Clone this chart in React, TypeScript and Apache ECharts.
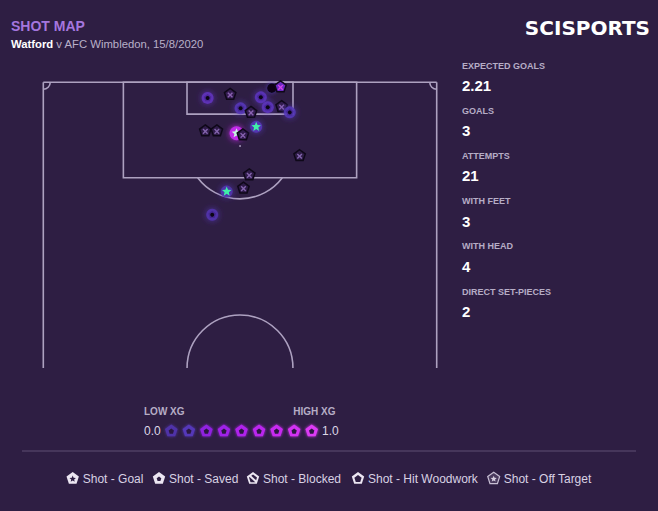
import React, { useEffect, useRef } from "react";
import * as echarts from "echarts";

// ---------- data ----------
const statLabels = ["EXPECTED GOALS", "GOALS", "ATTEMPTS", "WITH FEET", "WITH HEAD", "DIRECT SET-PIECES"];
const statValues = ["2.21", "3", "21", "3", "4", "2"];
const legendNames = ["Shot - Goal", "Shot - Saved", "Shot - Blocked", "Shot - Hit Woodwork", "Shot - Off Target"];
const legendKinds = ["Goal", "Saved", "Blocked", "Woodwork", "Off Target"];
const xgScaleColors = ["#4f33a8", "#5537b8", "#9020e0", "#a020e8", "#b024ec", "#bb28ee", "#c82cf0", "#d232f2", "#dc3af4"];

// pitch coordinates in metres: x across (0-68), y from goal line outward
const shotX = [28.4, 32.3, 37.6, 39.5, 41.0, 34.1, 38.8, 35.9, 41.2, 42.6, 28.0, 30.0, 33.4, 34.5, 36.8, 44.3, 35.6, 34.6, 31.7, 29.2];
const shotY = [2.7, 2.1, 2.6, 1.0, 0.8, 4.5, 4.3, 5.2, 4.2, 5.2, 8.4, 8.4, 8.8, 9.1, 7.7, 12.7, 16.0, 18.3, 18.9, 22.9];
const shotXG = [0.15, 0.06, 0.14, 0.05, 0.45, 0.13, 0.14, 0.06, 0.05, 0.12, 0.03, 0.03, 0.76, 0.05, 0.12, 0.02, 0.03, 0.03, 0.05, 0.06];
const shotOutcome = ["Saved", "Off Target", "Saved", "Blocked", "Off Target", "Saved", "Saved", "Off Target", "Off Target", "Saved", "Off Target", "Off Target", "Goal", "Off Target", "Goal", "Off Target", "Off Target", "Off Target", "Goal", "Saved"];

// ---------- helpers ----------
const BG = "#2e1e43";
const LINE = "#ada1c0";
const FONT = "'Liberation Sans', Arial, sans-serif";

function hexToRgb(h: string) {
  const n = parseInt(h.slice(1), 16);
  return [(n >> 16) & 255, (n >> 8) & 255, n & 255];
}
function mix(a: string, b: string, t: number) {
  const A = hexToRgb(a), B = hexToRgb(b);
  const c = A.map((v, i) => Math.round(v + (B[i] - v) * t));
  return "rgb(" + c.join(",") + ")";
}
function xgColor(xg: number) {
  const p = Math.max(0, Math.min(1, xg)) * (xgScaleColors.length - 1);
  const i = Math.min(Math.floor(p), xgScaleColors.length - 2);
  return mix(xgScaleColors[i], xgScaleColors[i + 1], p - i);
}
function pentagon(cx: number, cy: number, r: number) {
  const pts: number[][] = [];
  for (let k = 0; k < 5; k++) {
    const a = (-90 + 72 * k) * Math.PI / 180;
    pts.push([cx + r * Math.cos(a), cy + r * Math.sin(a)]);
  }
  return pts;
}
function star(cx: number, cy: number, r: number) {
  const pts: number[][] = [];
  for (let k = 0; k < 10; k++) {
    const a = (-90 + 36 * k) * Math.PI / 180;
    const rr = k % 2 === 0 ? r : r * 0.45;
    pts.push([cx + rr * Math.cos(a), cy + rr * Math.sin(a)]);
  }
  return pts;
}

function shotGlyph(cx: number, cy: number, xg: number, kind: string) {
  const col = xgColor(xg);
  const ch: any[] = [];
  if (kind === "Goal") {
    ch.push({ type: "circle", shape: { cx, cy, r: xg > 0.5 ? 7 : 6 }, style: { fill: col, opacity: 0.9, shadowBlur: 6, shadowColor: col } });
    ch.push({ type: "polygon", shape: { points: star(cx, cy, 5) }, style: { fill: xg > 0.5 ? "#c8f5e0" : "#3ff0a8" } });
  } else if (kind === "Saved") {
    ch.push({ type: "circle", shape: { cx, cy, r: 6 }, style: { fill: col, opacity: 0.85, shadowBlur: 6, shadowColor: col } });
    ch.push({ type: "polygon", shape: { points: pentagon(cx, cy, 4) }, style: { fill: mix("#2a1060", "#2a1060", 0), opacity: 0.35 } });
    ch.push({ type: "circle", shape: { cx, cy, r: 2 }, style: { fill: "#0b0614" } });
  } else if (kind === "Blocked") {
    ch.push({ type: "circle", shape: { cx, cy, r: 4.8 }, style: { fill: "#0b0614", shadowBlur: 4, shadowColor: col } });
  } else {
    const fillOp = Math.min(1, xg * 1.8);
    ch.push({ type: "polygon", shape: { points: pentagon(cx, cy, 6) }, style: { fill: mix("#2a1a3e", "#7a2ee0", fillOp), stroke: "#0e0818", lineWidth: 1.5 } });
    const xc = mix("#7e66aa", "#e040f0", Math.min(1, xg * 2));
    const d = 2.3;
    ch.push({ type: "line", shape: { x1: cx - d, y1: cy + 0.5 - d, x2: cx + d, y2: cy + 0.5 + d }, style: { stroke: xc, lineWidth: 1.4 } });
    ch.push({ type: "line", shape: { x1: cx - d, y1: cy + 0.5 + d, x2: cx + d, y2: cy + 0.5 - d }, style: { stroke: xc, lineWidth: 1.4 } });
  }
  return ch;
}

function legendIcon(cx: number, cy: number, kind: string) {
  const W = "#ece6f2", D = BG;
  const ch: any[] = [];
  if (kind === "Goal") {
    ch.push({ type: "polygon", shape: { points: pentagon(cx, cy, 6.5) }, style: { fill: W } });
    ch.push({ type: "polygon", shape: { points: star(cx, cy + 0.5, 3.4) }, style: { fill: D } });
  } else if (kind === "Saved") {
    ch.push({ type: "polygon", shape: { points: pentagon(cx, cy, 6.5) }, style: { fill: W } });
    ch.push({ type: "polygon", shape: { points: pentagon(cx, cy + 0.5, 2.4) }, style: { fill: D } });
  } else if (kind === "Blocked") {
    ch.push({ type: "polygon", shape: { points: pentagon(cx, cy, 6.5) }, style: { fill: W } });
    ch.push({ type: "polygon", shape: { points: pentagon(cx, cy + 0.3, 4.2) }, style: { fill: D } });
    ch.push({ type: "line", shape: { x1: cx - 3.5, y1: cy - 3, x2: cx + 3.5, y2: cy + 3.5 }, style: { stroke: W, lineWidth: 2 } });
  } else if (kind === "Woodwork") {
    ch.push({ type: "polygon", shape: { points: pentagon(cx, cy, 6.5) }, style: { fill: W } });
    ch.push({ type: "polygon", shape: { points: pentagon(cx, cy + 0.4, 3.8) }, style: { fill: D } });
  } else {
    ch.push({ type: "polygon", shape: { points: pentagon(cx, cy, 6.3) }, style: { fill: "#4a3a5e", stroke: "#c8bfd4", lineWidth: 1.2 } });
    ch.push({ type: "polygon", shape: { points: star(cx, cy + 0.5, 3.2) }, style: { fill: "#d8d0e2" } });
  }
  return ch;
}

function txt(x: number, y: number, text: string, size: number, fill: string, weight: string, align: string = "left", family: string = FONT) {
  return {
    type: "text", x, y, silent: true,
    style: { text, fill, fontSize: size, fontWeight: weight, fontFamily: family, align, verticalAlign: "middle", textAlign: align, textVerticalAlign: "middle" },
  };
}

export default function App() {
  const ref = useRef<HTMLDivElement>(null);
  useEffect(() => {
    const chart = echarts.init(ref.current!, null, { renderer: "svg" });

    const graphics: any[] = [];
    graphics.push(txt(11, 25.5, "SHOT MAP", 14, "#a576de", "bold"));
    graphics.push({
      type: "text", x: 11, y: 44, silent: true,
      style: {
        text: "{b|Watford}{n| v AFC Wimbledon, 15/8/2020}", verticalAlign: "middle", textVerticalAlign: "middle",
        rich: {
          b: { fontSize: 11.3, fontWeight: "bold", fill: "#ffffff", fontFamily: FONT },
          n: { fontSize: 11.3, fill: "#b9b0c9", fontFamily: FONT },
        },
      },
    });
    graphics.push(txt(650, 28, "SCISPORTS", 20, "#ffffff", "bold", "right", "'DejaVu Sans', sans-serif"));

    statLabels.forEach((l, i) => {
      graphics.push(txt(462, 66 + 45.1 * i, l, 9, "#b6adc6", "bold"));
      graphics.push(txt(462, 85.7 + 45.1 * i, statValues[i], 15, "#ffffff", "bold"));
    });

    graphics.push(txt(144, 411, "LOW XG", 10, "#b6adc6", "bold"));
    graphics.push(txt(335.5, 411, "HIGH XG", 10, "#b6adc6", "bold", "right"));
    graphics.push(txt(144, 431, "0.0", 12, "#ddd6e6", "normal"));
    graphics.push(txt(322, 431, "1.0", 12, "#ddd6e6", "normal"));
    xgScaleColors.forEach((c, i) => {
      const cx = 171.3 + 17.55 * i, cy = 431;
      graphics.push({ type: "polygon", silent: true, shape: { points: pentagon(cx, cy, 6.6) }, style: { fill: c, shadowBlur: 3, shadowColor: c } });
      graphics.push({ type: "polygon", silent: true, shape: { points: pentagon(cx, cy + 0.4, 2.8) }, style: { fill: "#2a1840" } });
    });

    graphics.push({ type: "line", silent: true, shape: { x1: 22, y1: 451, x2: 636, y2: 451 }, style: { stroke: "#5e4e74", lineWidth: 1 } });

    const iconX = [72.7, 159, 253, 358, 493.7];
    legendNames.forEach((n, i) => {
      legendIcon(iconX[i], 478.5, legendKinds[i]).forEach((e) => graphics.push({ ...e, silent: true }));
      graphics.push(txt(iconX[i] + 10, 478.5, n, 12, "#d9d2e3", "normal"));
    });

    const shotData = shotX.map((x, i) => [x, shotY[i], shotXG[i], shotOutcome[i]]);

    const option: any = {
      animation: false,
      backgroundColor: BG,
      grid: { left: 43.3, top: 82.3, width: 393.4, height: 285.7 },
      xAxis: { type: "value", min: 0, max: 68, show: false },
      yAxis: { type: "value", min: 0, max: 49.4, inverse: true, show: false },
      series: [
        {
          type: "custom",
          silent: true,
          clip: false,
          data: [[34, 0]],
          renderItem: (params: any, api: any) => {
            const c = (p: number[]) => api.coord(p);
            const st = { stroke: LINE, lineWidth: 1.6, fill: "none" };
            const ln = (a: number[], b: number[]) => {
              const A = c(a), B = c(b);
              return { type: "line", shape: { x1: A[0], y1: A[1], x2: B[0], y2: B[1] }, style: st };
            };
            const rk = (x0: number, y0: number, x1: number, y1: number) => {
              const A = c([x0, y0]), B = c([x1, y1]);
              return { type: "rect", shape: { x: A[0], y: A[1], width: B[0] - A[0], height: B[1] - A[1] }, style: st };
            };
            const rpx = (m: number) => api.size([m, 0])[0];
            const spot = c([34, 11]);
            const mid = c([34, 49.4]);
            const tl = c([0, 0]), tr = c([68, 0]);
            const ang = Math.asin(5.5 / 9.15);
            return {
              type: "group",
              children: [
                ln([0, 0], [68, 0]),
                ln([0, 0], [0, 49.4]),
                ln([68, 0], [68, 49.4]),
                rk(13.84, 0, 54.16, 16.5),
                rk(24.84, 0, 43.16, 5.5),
                { type: "circle", shape: { cx: spot[0], cy: spot[1], r: 0.9 }, style: { fill: LINE } },
                { type: "arc", shape: { cx: spot[0], cy: spot[1], r: rpx(9.15), startAngle: ang, endAngle: Math.PI - ang, clockwise: true }, style: st },
                { type: "arc", shape: { cx: mid[0], cy: mid[1], r: rpx(9.15), startAngle: Math.PI, endAngle: 2 * Math.PI, clockwise: true }, style: st },
                { type: "arc", shape: { cx: tl[0], cy: tl[1], r: rpx(1.2), startAngle: 0, endAngle: Math.PI / 2, clockwise: true }, style: st },
                { type: "arc", shape: { cx: tr[0], cy: tr[1], r: rpx(1.2), startAngle: Math.PI / 2, endAngle: Math.PI, clockwise: true }, style: st },
              ],
            };
          },
        },
        {
          type: "custom",
          silent: true,
          clip: false,
          data: shotData,
          renderItem: (params: any, api: any) => {
            const p = api.coord([api.value(0), api.value(1)]);
            const d = shotData[params.dataIndex];
            return { type: "group", children: shotGlyph(p[0], p[1], d[2] as number, d[3] as string) };
          },
        },
      ],
      graphic: graphics,
    };
    chart.setOption(option);
    return () => chart.dispose();
  }, []);
  return <div ref={ref} style={{ position: "absolute", left: 0, top: 0, width: 658, height: 511 }} />;
}
